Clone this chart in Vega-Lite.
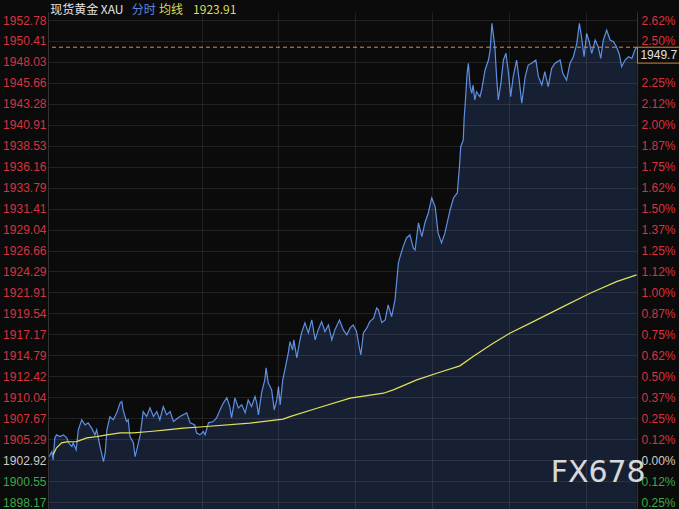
{
  "$schema": "https://vega.github.io/schema/vega-lite/v6.json",
  "width": 589,
  "height": 497,
  "autosize": "none",
  "padding": {"left": 48, "top": 12, "right": 42, "bottom": 0},
  "background": "#0b0b0b",
  "config": {"view": {"stroke": null}},
  "datasets": {
    "price": [
      {"t":3,"v":1903.3},{"t":5,"v":1903.52},{"t":9,"v":1903.89},{"t":12,"v":1902.95},{"t":16,"v":1905.44},{"t":20,"v":1905.78},{"t":28,"v":1905.59},{"t":36,"v":1905.78},{"t":44,"v":1905.44},{"t":48,"v":1904.88},{"t":56,"v":1904.46},{"t":59,"v":1904.88},{"t":66,"v":1904.08},{"t":71,"v":1906.35},{"t":79,"v":1907.48},{"t":87,"v":1906.91},{"t":94,"v":1907.14},{"t":102,"v":1906.57},{"t":110,"v":1905.78},{"t":114,"v":1906.35},{"t":122,"v":1904.46},{"t":130,"v":1902.76},{"t":134,"v":1903.74},{"t":138,"v":1906.35},{"t":145,"v":1907.85},{"t":153,"v":1907.48},{"t":161,"v":1908.27},{"t":169,"v":1909.41},{"t":173,"v":1909.55},{"t":176,"v":1908.61},{"t":184,"v":1907.29},{"t":188,"v":1907.48},{"t":192,"v":1905.59},{"t":200,"v":1904.88},{"t":204,"v":1903.32},{"t":208,"v":1904.08},{"t":216,"v":1905.78},{"t":223,"v":1908.42},{"t":231,"v":1907.85},
      {"t":239,"v":1908.84},{"t":247,"v":1907.85},{"t":255,"v":1908.42},{"t":262,"v":1907.48},{"t":270,"v":1908.99},{"t":278,"v":1908.05},{"t":286,"v":1908.42},{"t":294,"v":1907.29},{"t":309,"v":1907.85},{"t":325,"v":1908.27},{"t":333,"v":1907.14},{"t":344,"v":1906.91},{"t":348,"v":1906.01},{"t":356,"v":1905.78},{"t":364,"v":1906.16},{"t":368,"v":1905.78},{"t":376,"v":1907.14},{"t":387,"v":1907.29},{"t":395,"v":1907.71},{"t":403,"v":1908.61},{"t":411,"v":1909.41},{"t":419,"v":1909.97},{"t":426,"v":1908.99},{"t":430,"v":1907.71},{"t":438,"v":1909.97},{"t":446,"v":1908.84},{"t":454,"v":1909.18},{"t":462,"v":1908.27},{"t":469,"v":1909.74},{"t":477,"v":1908.99},{"t":485,"v":1910.12},{"t":489,"v":1909.41},{"t":493,"v":1908.05},{"t":501,"v":1910.69},{"t":508,"v":1912.01},{"t":511,"v":1913.37},{"t":516,"v":1911.67},{"t":524,"v":1910.88},{"t":530,"v":1908.61},{"t":536,"v":1909.74},{"t":540,"v":1911.25},{"t":544,"v":1909.18},{"t":550,"v":1912.01},{"t":555,"v":1913.14},{"t":563,"v":1915.07},{"t":567,"v":1916.35},{"t":573,"v":1915.41},{"t":576,"v":1916.54},{"t":583,"v":1914.5},{"t":589,"v":1916.2},{"t":594,"v":1917.33},{"t":602,"v":1918.47},{"t":610,"v":1917.33},{"t":618,"v":1918.8},{"t":626,"v":1916.54},{"t":633,"v":1917.67},{"t":641,"v":1918.61},{"t":649,"v":1917.48},{"t":657,"v":1918.24},{"t":665,"v":1916.54},{"t":672,"v":1917.67},{"t":683,"v":1918.8},{"t":692,"v":1917.67},{"t":700,"v":1917.11},{"t":708,"v":1917.9},{"t":715,"v":1918.24},{"t":723,"v":1917.48},{"t":729,"v":1915.78},{"t":733,"v":1914.84},{"t":739,"v":1917.33},{"t":747,"v":1917.9},{"t":754,"v":1918.61},{"t":763,"v":1919.0},
      {"t":770,"v":1920.16},{"t":774,"v":1919.94},{"t":782,"v":1918.5},{"t":790,"v":1918.8},{"t":797,"v":1920.5},{"t":805,"v":1919.18},{"t":813,"v":1921.07},{"t":821,"v":1925.26},{"t":825,"v":1925.97},{"t":832,"v":1927.11},{"t":840,"v":1928.09},{"t":848,"v":1928.43},{"t":856,"v":1926.93},{"t":860,"v":1926.73},{"t":868,"v":1929.79},{"t":876,"v":1928.24},{"t":883,"v":1929.79},{"t":891,"v":1930.92},{"t":899,"v":1932.62},{"t":907,"v":1931.64},{"t":914,"v":1928.66},{"t":922,"v":1927.53},{"t":930,"v":1928.66},{"t":942,"v":1931.26},{"t":950,"v":1932.62},{"t":959,"v":1933.19},{"t":964,"v":1936.17},{"t":967,"v":1938.43},{"t":973,"v":1939.19},{"t":975,"v":1941.68},{"t":977,"v":1942.96},{"t":982,"v":1946.74},{"t":985,"v":1947.88},{"t":989,"v":1945.23},{"t":993,"v":1944.48},{"t":996,"v":1945.42},{"t":1000,"v":1943.72},{"t":1004,"v":1944.66},{"t":1012,"v":1944.09},{"t":1016,"v":1944.85},{"t":1024,"v":1947.12},{"t":1032,"v":1948.25},{"t":1036,"v":1949.38},{"t":1040,"v":1952.41},{"t":1043,"v":1951.27},{"t":1047,"v":1949.76},{"t":1051,"v":1946.36},{"t":1055,"v":1943.72},{"t":1061,"v":1945.61},{"t":1067,"v":1948.25},{"t":1073,"v":1949.01},{"t":1079,"v":1946.74},{"t":1084,"v":1944.09},{"t":1090,"v":1946.36},{"t":1098,"v":1948.25},{"t":1104,"v":1945.98},{"t":1110,"v":1943.35},{"t":1118,"v":1946.36},{"t":1125,"v":1947.68},{"t":1133,"v":1947.88},{"t":1143,"v":1948.25},{"t":1149,"v":1946.36},{"t":1157,"v":1945.42},{"t":1164,"v":1946.93},{"t":1172,"v":1945.23},{"t":1180,"v":1947.31},{"t":1188,"v":1947.88},{"t":1200,"v":1948.25},{"t":1206,"v":1946.74},{"t":1215,"v":1945.98},{"t":1223,"v":1947.88},{"t":1231,"v":1948.62},{"t":1239,"v":1950.14},{"t":1245,"v":1952.41},{"t":1250,"v":1950.89},{"t":1256,"v":1948.62},{"t":1262,"v":1951.27},{"t":1268,"v":1950.32},{"t":1274,"v":1949.01},{"t":1282,"v":1950.51},{"t":1289,"v":1949.76},{"t":1295,"v":1948.44},{"t":1301,"v":1950.51},{"t":1309,"v":1951.65},{"t":1317,"v":1950.51},{"t":1325,"v":1950.32},{"t":1332,"v":1949.76},{"t":1339,"v":1948.82},{"t":1344,"v":1947.49},{"t":1352,"v":1948.25},{"t":1360,"v":1948.62},{"t":1368,"v":1948.44},{"t":1375,"v":1949.38},{"t":1379,"v":1949.7}
    ],
    "avg": [
      {"t":12,"v":1903.52},{"t":20,"v":1904.31},{"t":32,"v":1904.88},{"t":44,"v":1904.99},{"t":67,"v":1905.02},{"t":91,"v":1905.44},{"t":114,"v":1905.59},{"t":138,"v":1905.78},{"t":169,"v":1906.01},{"t":200,"v":1906.01},{"t":239,"v":1906.16},{"t":278,"v":1906.35},{"t":317,"v":1906.54},{"t":356,"v":1906.67},{"t":473,"v":1907.11},{"t":551,"v":1907.56},{"t":567,"v":1907.85},{"t":630,"v":1908.8},{"t":708,"v":1909.94},{"t":786,"v":1910.5},{"t":809,"v":1910.88},{"t":864,"v":1912.01},{"t":918,"v":1912.88},{"t":965,"v":1913.6},{"t":996,"v":1914.65},{"t":1043,"v":1916.17},{"t":1082,"v":1917.3},{"t":1137,"v":1918.61},{"t":1207,"v":1920.31},{"t":1270,"v":1921.83},{"t":1332,"v":1923.14},{"t":1379,"v":1923.91}
    ],
    "last": [{"price": 1949.7, "label": "1949.7"}]
  },
  "resolve": {"axis": {"x": "independent", "y": "independent"}},
  "layer": [
    {
      "data": {"name": "price"},
      "mark": {"type": "area", "color": {"gradient": "linear", "x1": 0, "y1": 0, "x2": 0, "y2": 1, "stops": [{"offset": 0, "color": "#172033"}, {"offset": 1, "color": "#10151f"}]}},
      "encoding": {
        "x": {"field": "t", "type": "quantitative", "scale": {"domain": [0, 1380], "nice": false, "zero": false},
          "axis": {"values": [360, 540, 720, 900, 1080, 1260], "grid": true, "gridColor": "rgba(255,255,255,0.09)", "labels": false, "ticks": false, "domain": false, "title": null, "zindex": 1}},
        "y": {"field": "v", "type": "quantitative", "scale": {"domain": [1897.38, 1953.69], "nice": false, "zero": false},
          "axis": {"orient": "left", "values": [1952.78,1950.41,1948.03,1945.66,1943.28,1940.91,1938.53,1936.16,1933.79,1931.41,1929.04,1926.66,1924.29,1921.91,1919.54,1917.17,1914.79,1912.42,1910.04,1907.67,1905.29,1902.92,1900.55,1898.17],
            "labelExpr": "format(datum.value, '.2f')", "labelFont": "Liberation Sans", "labelFontSize": 12, "labelPadding": 2, "ticks": false,
            "domain": true, "domainColor": "#333333", "grid": true, "gridColor": "rgba(255,255,255,0.09)", "title": null,
            "labelOverlap": false, "labelBound": false, "labelFlush": false, "zindex": 1,
            "labelColor": {"condition": [{"test": "datum.value > 1903", "value": "#d8323f"}, {"test": "datum.value < 1902.5", "value": "#3aa84c"}], "value": "#cccccc"}}}
      }
    },
    {
      "data": {"name": "price"},
      "mark": {"type": "line", "color": "#5d8fe3", "strokeWidth": 1.2},
      "encoding": {
        "x": {"field": "t", "type": "quantitative", "scale": {"domain": [0, 1380], "nice": false, "zero": false}, "axis": null},
        "y": {"field": "v", "type": "quantitative", "scale": {"domain": [1897.38, 1953.69], "nice": false, "zero": false}, "axis": null}
      }
    },
    {
      "data": {"name": "avg"},
      "mark": {"type": "line", "color": "#e0e05a", "strokeWidth": 1.2},
      "encoding": {
        "x": {"field": "t", "type": "quantitative", "scale": {"domain": [0, 1380], "nice": false, "zero": false}, "axis": null},
        "y": {"field": "v", "type": "quantitative", "scale": {"domain": [1897.38, 1953.69], "nice": false, "zero": false},
          "axis": {"orient": "right", "values": [1952.78,1950.41,1945.66,1943.28,1940.91,1938.53,1936.16,1933.79,1931.41,1929.04,1926.66,1924.29,1921.91,1919.54,1917.17,1914.79,1912.42,1910.04,1907.67,1905.29,1902.92,1900.55,1898.17],
            "labelExpr": "format(abs(datum.value - 1902.92) / 1902.92 * 100, '.2f') + '%'", "labelFont": "Liberation Sans", "labelFontSize": 12, "labelPadding": 4, "ticks": false,
            "domain": true, "domainColor": "#333333", "grid": false, "title": null, "labelOverlap": false, "labelBound": false, "labelFlush": false,
            "labelColor": {"condition": [{"test": "datum.value > 1903", "value": "#d8323f"}, {"test": "datum.value < 1902.5", "value": "#3aa84c"}], "value": "#cccccc"}}}
      }
    },
    {
      "data": {"name": "last"},
      "mark": {"type": "rule", "color": "#dc8c48", "strokeWidth": 1, "strokeDash": [4, 3]},
      "encoding": {
        "y": {"field": "price", "type": "quantitative", "scale": {"domain": [1897.38, 1953.69], "nice": false, "zero": false}, "axis": null}
      }
    },
    {
      "data": {"name": "last"},
      "mark": {"type": "rect", "fill": "#0b0b0b", "stroke": "#d08a3a", "strokeWidth": 1},
      "encoding": {
        "x": {"datum": 1381, "type": "quantitative", "scale": {"domain": [0, 1380], "nice": false, "zero": false}, "axis": null},
        "x2": {"datum": 1480},
        "y": {"field": "price", "type": "quantitative", "scale": {"domain": [1897.38, 1953.69], "nice": false, "zero": false}, "axis": null},
        "y2": {"datum": 1947.9}
      }
    },
    {
      "data": {"name": "last"},
      "mark": {"type": "text", "align": "left", "baseline": "middle", "color": "#e2e2e2", "font": "Liberation Sans", "fontSize": 12},
      "encoding": {
        "x": {"datum": 1388, "type": "quantitative", "scale": {"domain": [0, 1380], "nice": false, "zero": false}, "axis": null},
        "y": {"datum": 1948.8, "type": "quantitative", "scale": {"domain": [1897.38, 1953.69], "nice": false, "zero": false}, "axis": null},
        "text": {"field": "label"}
      }
    },
    {
      "data": {"values": [{"label": "现货黄金 XAU"}]},
      "mark": {"type": "text", "align": "left", "baseline": "middle", "color": "#e4e4e4", "font": "Noto Sans CJK SC", "fontSize": 12},
      "encoding": {
        "x": {"datum": 5, "type": "quantitative", "scale": {"domain": [0, 1380], "nice": false, "zero": false}, "axis": null},
        "y": {"datum": 1953.95, "type": "quantitative", "scale": {"domain": [1897.38, 1953.69], "nice": false, "zero": false}, "axis": null},
        "text": {"field": "label"}
      }
    },
    {
      "data": {"values": [{"label": "分时"}]},
      "mark": {"type": "text", "align": "left", "baseline": "middle", "color": "#5b86dc", "font": "Noto Sans CJK SC", "fontSize": 12},
      "encoding": {
        "x": {"datum": 196, "type": "quantitative", "scale": {"domain": [0, 1380], "nice": false, "zero": false}, "axis": null},
        "y": {"datum": 1953.95, "type": "quantitative", "scale": {"domain": [1897.38, 1953.69], "nice": false, "zero": false}, "axis": null},
        "text": {"field": "label"}
      }
    },
    {
      "data": {"values": [{"label": "均线"}]},
      "mark": {"type": "text", "align": "left", "baseline": "middle", "color": "#dcdc5c", "font": "Noto Sans CJK SC", "fontSize": 12},
      "encoding": {
        "x": {"datum": 260, "type": "quantitative", "scale": {"domain": [0, 1380], "nice": false, "zero": false}, "axis": null},
        "y": {"datum": 1953.95, "type": "quantitative", "scale": {"domain": [1897.38, 1953.69], "nice": false, "zero": false}, "axis": null},
        "text": {"field": "label"}
      }
    },
    {
      "data": {"values": [{"label": "1923.91"}]},
      "mark": {"type": "text", "align": "left", "baseline": "middle", "color": "#dcdc5c", "font": "Noto Sans CJK SC", "fontSize": 12},
      "encoding": {
        "x": {"datum": 340, "type": "quantitative", "scale": {"domain": [0, 1380], "nice": false, "zero": false}, "axis": null},
        "y": {"datum": 1953.95, "type": "quantitative", "scale": {"domain": [1897.38, 1953.69], "nice": false, "zero": false}, "axis": null},
        "text": {"field": "label"}
      }
    },
    {
      "data": {"values": [{"label": "FX678"}]},
      "mark": {"type": "text", "align": "center", "baseline": "middle", "color": "#e8e8e8", "opacity": 0.92, "font": "DejaVu Sans", "fontSize": 30},
      "encoding": {
        "x": {"datum": 1289, "type": "quantitative", "scale": {"domain": [0, 1380], "nice": false, "zero": false}, "axis": null},
        "y": {"datum": 1901.48, "type": "quantitative", "scale": {"domain": [1897.38, 1953.69], "nice": false, "zero": false}, "axis": null},
        "text": {"field": "label"}
      }
    }
  ]
}
